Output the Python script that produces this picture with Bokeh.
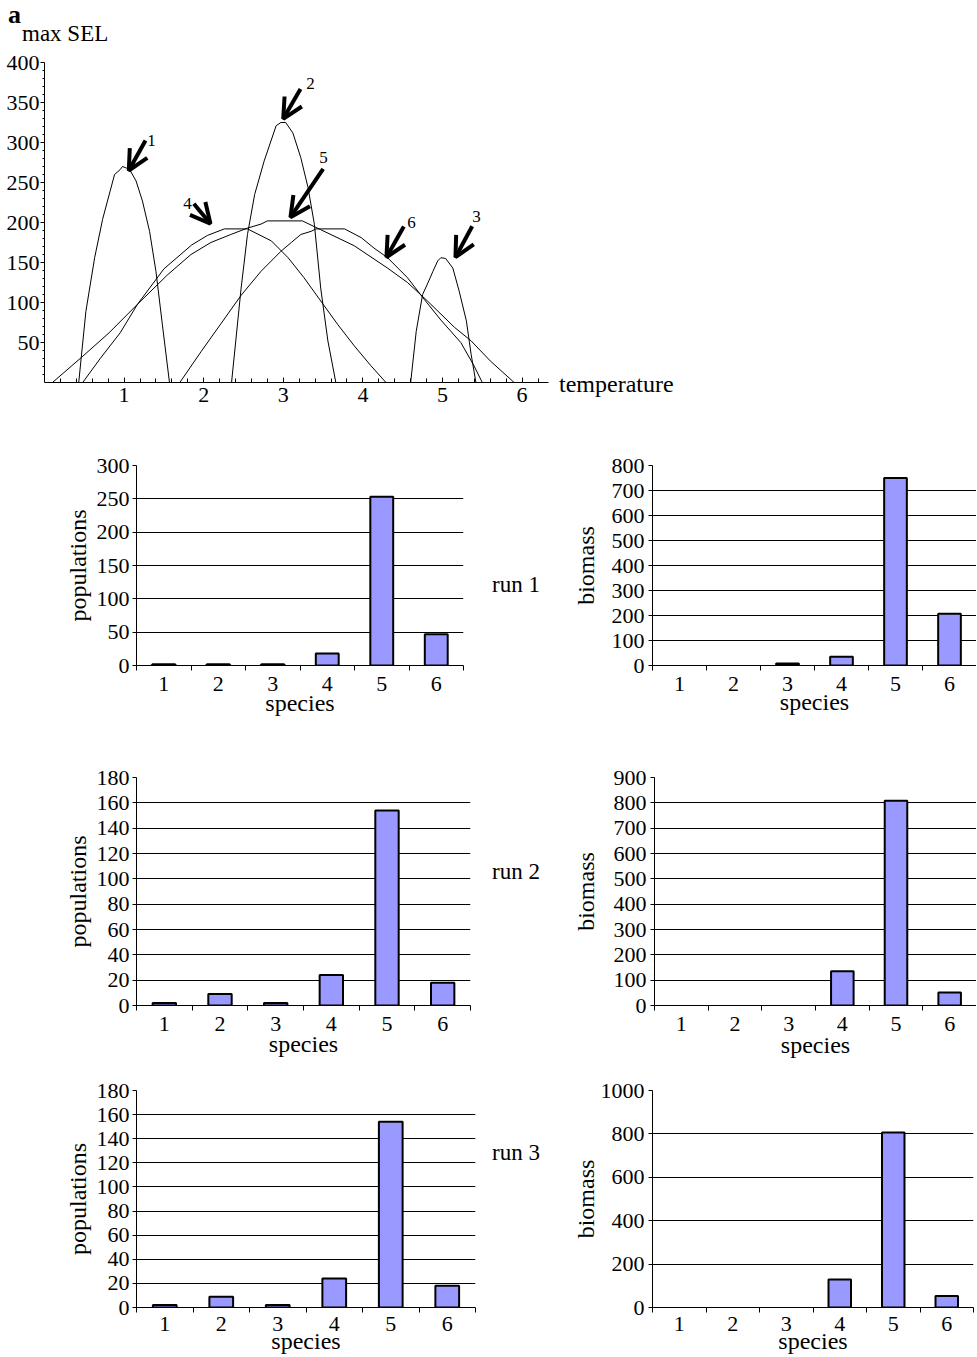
import numpy as np
from bokeh.plotting import figure
from bokeh.models import (FixedTicker, LabelSet, Arrow, OpenHead,
                          ColumnDataSource, Range1d, Div)
from bokeh.layouts import column, row
from bokeh.embed import file_html
from bokeh.resources import INLINE
from bokeh.core.properties import value

# ------------------------------------------------------------------ data
species = [1, 2, 3, 4, 5, 6]

pop_run1 = [2, 2, 2, 18, 253, 47]
bio_run1 = [0, 0, 8, 35, 750, 207]
pop_run2 = [2, 9, 2, 24, 154, 18]
bio_run2 = [0, 0, 0, 135, 808, 51]
pop_run3 = [2, 9, 2, 24, 154, 18]
bio_run3 = [0, 0, 0, 129, 807, 53]

pop1_ticks = [0, 50, 100, 150, 200, 250, 300]
bio1_ticks = [0, 100, 200, 300, 400, 500, 600, 700, 800]
pop2_ticks = [0, 20, 40, 60, 80, 100, 120, 140, 160, 180]
bio2_ticks = [0, 100, 200, 300, 400, 500, 600, 700, 800, 900]
pop3_ticks = [0, 20, 40, 60, 80, 100, 120, 140, 160, 180]
bio3_ticks = [0, 200, 400, 600, 800, 1000]

sel_ticks = [50, 100, 150, 200, 250, 300, 350, 400]
temp_ticks = [1, 2, 3, 4, 5, 6]

# max SEL curves vs temperature
c1_t = [0.43, 0.52, 0.63, 0.73, 0.88, 0.95, 0.98, 1.03, 1.07, 1.15, 1.23, 1.32, 1.40, 1.48, 1.57]
c1_v = [0, 89, 156, 204, 260, 266, 270, 268, 266, 252, 227, 189, 139, 73, 0]
c2_t = [2.35, 2.47, 2.55, 2.64, 2.76, 2.91, 2.97, 3.03, 3.12, 3.22, 3.31, 3.39, 3.47, 3.56, 3.66]
c2_v = [0, 118, 185, 235, 277, 321, 325, 325, 312, 281, 244, 198, 118, 52, 0]
c3_t = [4.60, 4.67, 4.75, 4.81, 4.88, 4.94, 4.98, 5.04, 5.13, 5.21, 5.30, 5.36, 5.42]
c3_v = [0, 64, 110, 123, 139, 152, 156, 155, 143, 114, 77, 35, 0]
c4_t = [0.48, 0.70, 0.95, 1.17, 1.50, 1.85, 2.05, 2.26, 2.55, 2.85, 3.06, 3.26, 3.47, 3.68, 3.89, 4.10, 4.29]
c4_v = [0, 30, 62, 98, 142, 172, 184, 192, 192, 177, 156, 131, 102, 73, 46, 21, 0]
c5_t = [0.10, 0.46, 0.81, 1.17, 1.55, 1.84, 2.09, 2.34, 2.55, 2.72, 2.80, 3.24, 3.47, 3.89, 4.31, 4.56, 4.81, 5.15, 5.36, 5.60, 5.90]
c5_v = [0, 31, 62, 98, 135, 160, 175, 185, 193, 198, 202, 202, 191, 171, 143, 125, 102, 69, 52, 27, 0]
c6_t = [1.70, 1.97, 2.22, 2.47, 2.72, 2.97, 3.10, 3.22, 3.35, 3.41, 3.77, 3.98, 4.14, 4.31, 4.56, 4.77, 4.98, 5.23, 5.39, 5.50]
c6_v = [0, 39, 74, 109, 139, 164, 175, 185, 189, 192, 192, 181, 168, 156, 131, 104, 78, 50, 22, 0]

# arrows pointing at each curve (temperature, max SEL)
arrow_names = ["1", "2", "5", "4", "6", "3"]
arrow_tail_t = [1.269, 3.216, 3.501, 1.876, 4.514, 5.373]
arrow_tail_v = [302.5, 367, 267, 223.4, 195, 195.4]
arrow_tip_t = [1.059, 2.999, 3.090, 2.085, 4.296, 5.163]
arrow_tip_v = [265, 329.6, 206.6, 198.4, 156.6, 156.6]
arrow_lab_t = [1.344, 3.342, 3.505, 1.796, 4.611, 5.427]
arrow_lab_v = [302.5, 373.75, 281, 223.75, 200, 207.5]

# ------------------------------------------------------------------ style
FONT = "Liberation Serif"
BAR_FILL = "#9999ff"


def make_fig(W, H, L, R, T, B, xr, yr):
    p = figure(width=W, height=H, x_range=Range1d(*xr), y_range=Range1d(*yr),
               output_backend="svg", toolbar_location=None, title=None,
               min_border_left=L, min_border_right=R,
               min_border_top=T, min_border_bottom=B, margin=0)
    p.outline_line_color = None
    p.xgrid.visible = False
    p.ygrid.visible = False
    for ax in (p.xaxis[0], p.yaxis[0]):
        ax.axis_line_color = "black"
        ax.axis_line_width = 1
        ax.major_label_text_font = FONT
        ax.major_label_text_font_size = "22px"
        ax.major_label_text_color = "black"
        ax.major_tick_line_color = "black"
        ax.minor_tick_line_color = "black"
        ax.axis_label_text_font = FONT
        ax.axis_label_text_font_size = "24px"
        ax.axis_label_text_font_style = "normal"
        ax.axis_label_text_color = "black"
    return p


def text_div(W, H, items):
    spans = []
    for (x, y, txt, size, lh, weight) in items:
        spans.append(
            f'<span style="position:absolute;display:block;left:{x}px;top:{y}px;'
            f'font-family:\'{FONT}\';font-size:{size}px;line-height:{lh}px;'
            f'font-weight:{weight};color:black;white-space:nowrap;">{txt}</span>')
    html = (f'<div style="position:relative;width:{W}px;height:{H}px;">'
            + "".join(spans) + '</div>')
    return Div(text=html, width=W, height=H, margin=0)


# ------------------------------------------------------------------ header
header = text_div(977, 48, [(8, 0, "a", 26, 29, "bold"),
                            (22, 22, "max SEL", 23, 23, "normal")])

# ------------------------------------------------------------------ top panel
top = make_fig(555, 392, 44, 7, 14, 58, (0, 504 / 79.6), (0, 400))
for t, v in [(c1_t, c1_v), (c2_t, c2_v), (c3_t, c3_v),
             (c4_t, c4_v), (c5_t, c5_v), (c6_t, c6_v)]:
    top.line(t, v, line_color="black", line_width=1)

top.xaxis.ticker = FixedTicker(ticks=temp_ticks,
                               minor_ticks=list(np.round(np.arange(0.2, 6.3, 0.2), 2)))
top.xaxis.major_tick_in = 5
top.xaxis.major_tick_out = 0
top.xaxis.minor_tick_in = 4
top.xaxis.minor_tick_out = 0
top.xaxis.major_label_standoff = 5
top.yaxis.ticker = FixedTicker(ticks=sel_ticks, minor_ticks=list(range(10, 400, 10)))
top.yaxis.major_tick_in = 0
top.yaxis.major_tick_out = 4
top.yaxis.minor_tick_in = 0
top.yaxis.minor_tick_out = 2
top.yaxis.major_label_standoff = 1

asrc = ColumnDataSource(dict(xs=arrow_tail_t, ys=arrow_tail_v,
                             xe=arrow_tip_t, ye=arrow_tip_v))
top.add_layout(Arrow(x_start="xs", y_start="ys", x_end="xe", y_end="ye",
                     source=asrc, line_width=4, line_color="black",
                     end=OpenHead(size=20, line_width=4, line_color="black")))
lsrc = ColumnDataSource(dict(x=arrow_lab_t, y=arrow_lab_v, t=arrow_names))
top.add_layout(LabelSet(x="x", y="y", text="t", source=lsrc,
                        text_font=value(FONT), text_font_size=value("17px"),
                        text_align="center", text_baseline="middle",
                        text_color="black"))

temp_div = text_div(422, 392, [(4, 324, "temperature", 24, 24, "normal")])


# ------------------------------------------------------------------ bar panels
def bar_panel(W, H, L, R, T, B, vals, ticks, ylab, ylab_standoff,
              tick_standoff, xlab_standoff):
    p = make_fig(W, H, L, R, T, B, (0.5, 6.5), (ticks[0], ticks[-1]))
    xs = [s for s, v in zip(species, vals) if v > 0]
    vs = [v for v in vals if v > 0]
    p.vbar(x=xs, top=vs, bottom=0, width=0.42, fill_color=BAR_FILL,
           line_color="black", line_width=2)
    p.ygrid.visible = True
    p.ygrid.ticker = FixedTicker(ticks=ticks[1:-1])
    p.ygrid.grid_line_color = "black"
    p.ygrid.grid_line_width = 1
    p.xaxis.ticker = FixedTicker(ticks=species,
                                 minor_ticks=[s - 0.5 for s in species] + [6.5])
    p.xaxis.major_tick_in = 0
    p.xaxis.major_tick_out = 0
    p.xaxis.minor_tick_in = 0
    p.xaxis.minor_tick_out = 5
    p.xaxis.major_label_standoff = tick_standoff
    p.xaxis.axis_label = "species"
    p.xaxis.axis_label_standoff = xlab_standoff
    p.yaxis.ticker = FixedTicker(ticks=ticks)
    p.yaxis.major_tick_in = 0
    p.yaxis.major_tick_out = 4
    p.yaxis.minor_tick_line_color = None
    p.yaxis.major_label_standoff = 3 if L > 100 else 4
    p.yaxis.axis_label = ylab
    p.yaxis.axis_label_standoff = ylab_standoff
    return p


LW, MW, RW = 480, 85, 411
p1 = bar_panel(LW, 280, 136, 17, 25, 55, pop_run1, pop1_ticks, "populations", 3, 6, -4)
r1 = text_div(MW, 280, [(12, 133, "run 1", 23, 23, "normal")])
b1 = bar_panel(RW, 280, 87, 0, 17, 54, bio_run1, bio1_ticks, "biomass", 10, 6, -5)

p2 = bar_panel(LW, 340, 136, 10, 57, 54, pop_run2, pop2_ticks, "populations", 3, 6, -3)
r2 = text_div(MW, 340, [(12, 140, "run 2", 23, 23, "normal")])
b2 = bar_panel(RW, 340, 89, 0, 34, 55, bio_run2, bio2_ticks, "biomass", 12, 6, -2)

p3 = bar_panel(LW, 296, 136, 5, 26, 49, pop_run3, pop3_ticks, "populations", 3, 4, -6)
r3 = text_div(MW, 296, [(12, 81, "run 3", 23, 23, "normal")])
b3 = bar_panel(RW, 296, 87, 3, 30, 49, bio_run3, bio3_ticks, "biomass", -1, 4, -6)

layout = column(header, row(top, temp_div), row(p1, r1, b1), row(p2, r2, b2),
                row(p3, r3, b3), margin=0, spacing=0)

open("out.html", "w").write(file_html(layout, INLINE))
